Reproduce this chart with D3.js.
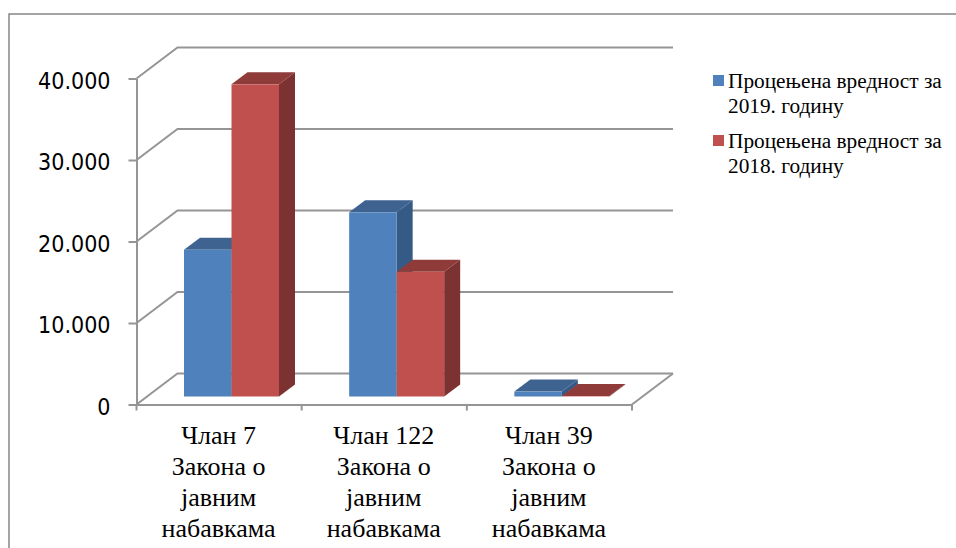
<!DOCTYPE html>
<html>
<head>
<meta charset="utf-8">
<script src="https://cdn.jsdelivr.net/npm/d3@7"></script>
<style>
  html, body { margin: 0; padding: 0; background: #fff; overflow: hidden; }
  svg { display: block; }
</style>
</head>
<body>
<svg width="956" height="548"></svg>
<script>
var categories = ["Члан 7", "Члан 122", "Члан 39"];
var categoryRest = ["Закона о", "јавним", "набавкама"];
var seriesNames = ["Процењена вредност за 2019. годину", "Процењена вредност за 2018. годину"];
var legendLines = [
  ["Процењена вредност за", "2019. годину"],
  ["Процењена вредност за", "2018. годину"]
];
var values2019 = [18000, 22600, 600];
var values2018 = [38300, 15300, 50];
var yTicks = [0, 10000, 20000, 30000, 40000];

var colors = ["#4f81bd", "#c0504d"];
var topColors = ["#3e6391", "#8e3b39"];
var sideColors = ["#355a85", "#7b3230"];
var gridColor = "#959595";
var serif = "'Liberation Serif', serif";

var svg = d3.select("svg");
var g = svg.append("g");

// chart frame, only left and top show up in the picture
g.append("path")
  .attr("d", "M9,548V14H956")
  .attr("fill", "none")
  .attr("stroke", "#868686")
  .attr("stroke-width", 1.5);

var xScale = d3.scaleBand().domain(categories).range([136.5, 632]);
var seriesScale = d3.scaleBand().domain([0, 1]).range([47.5, 142.5]);
var yScale = d3.scaleLinear().domain([0, 40000]).range([404.5, 78.5]);

// the 3d look: back wall offset and bar depth
var wallDx = 41, wallDy = -31;
var barDx = 16, barDy = -12, barLift = 8;

// walls and gridlines
g.selectAll(".grid")
  .data(yTicks)
  .enter()
  .append("polyline")
  .attr("class", "grid")
  .attr("fill", "none")
  .attr("stroke", gridColor)
  .attr("stroke-width", 2)
  .attr("points", function (d) {
    var y = yScale(d);
    return [[136.5, y], [136.5 + wallDx, y + wallDy], [632 + wallDx, y + wallDy]].join(" ");
  });

// floor front right corner
g.append("line")
  .attr("x1", 632).attr("y1", yScale(0))
  .attr("x2", 632 + wallDx).attr("y2", yScale(0) + wallDy)
  .attr("stroke", gridColor)
  .attr("stroke-width", 2);

var yAxis = g.append("g")
  .attr("transform", "translate(136.5,0)")
  .call(d3.axisLeft(yScale)
    .tickValues(yTicks)
    .tickSize(8)
    .tickPadding(18)
    .tickSizeOuter(0)
    .tickFormat(function (d) { return d3.format(",")(d).replace(/,/g, "."); }));
yAxis.selectAll("text")
  .attr("font-family", "'DejaVu Sans', sans-serif")
  .attr("font-stretch", "condensed")
  .attr("font-size", "23px")
  .attr("fill", "#000");
yAxis.selectAll(".tick line").attr("x2", -8);
yAxis.selectAll(".tick text").attr("x", -26).attr("y", 2.5);

var xAxis = g.append("g")
  .attr("transform", "translate(0," + yScale(0) + ")")
  .call(d3.axisBottom(xScale).tickValues([]).tickSize(0));

var xTickPos = categories.map(function (c) { return xScale(c); }).concat([632]);
xAxis.selectAll(".cat-tick")
  .data(xTickPos)
  .enter()
  .append("line")
  .attr("class", "cat-tick")
  .attr("x1", function (d) { return d; })
  .attr("x2", function (d) { return d; })
  .attr("y1", 0)
  .attr("y2", 6);

[yAxis, xAxis].forEach(function (a) {
  a.selectAll(".domain, line")
    .attr("stroke", gridColor)
    .attr("stroke-width", 2);
});

// category labels, 4 lines each
var labels = g.selectAll(".cat-label")
  .data(categories)
  .enter()
  .append("text")
  .attr("class", "cat-label")
  .attr("text-anchor", "middle")
  .attr("font-family", serif)
  .attr("font-size", "26px")
  .attr("fill", "#000");

labels.selectAll("tspan")
  .data(function (d) {
    return [d].concat(categoryRest).map(function (t) { return { cat: d, text: t }; });
  })
  .enter()
  .append("tspan")
  .attr("x", function (d) { return xScale(d.cat) + xScale.bandwidth() / 2 - 0.5; })
  .attr("y", function (d, i) { return 444 + i * 31; })
  .text(function (d) { return d.text; });

// bars, left to right so the red one sits over the blue side
[values2019, values2018].forEach(function (vals, s) {
  var bars = g.selectAll(".bar" + s)
    .data(vals)
    .enter()
    .append("g")
    .attr("class", "bar" + s)
    .attr("transform", function (d, i) {
      return "translate(" + (xScale(categories[i]) + seriesScale(s)) + "," + (yScale(d) - barLift) + ")";
    });
  var w = seriesScale.bandwidth();

  bars.append("path") // side
    .attr("fill", sideColors[s])
    .attr("d", function (d) {
      var h = yScale(0) - yScale(d);
      return "M" + w + ",0l" + barDx + "," + barDy + "v" + h + "l" + (-barDx) + "," + (-barDy) + "z";
    });
  bars.append("path") // top
    .attr("fill", topColors[s])
    .attr("d", "M0,0l" + barDx + "," + barDy + "h" + w + "l" + (-barDx) + "," + (-barDy) + "z");
  bars.append("rect") // front
    .attr("width", w)
    .attr("height", function (d) { return yScale(0) - yScale(d); })
    .attr("fill", colors[s]);
});

// legend
var legend = g.selectAll(".legend")
  .data(seriesNames)
  .enter()
  .append("g")
  .attr("class", "legend")
  .attr("transform", function (d, i) { return "translate(713," + (75 + i * 60) + ")"; });

legend.append("rect")
  .attr("width", 11)
  .attr("height", 11)
  .attr("fill", function (d, i) { return colors[i]; });

legend.each(function (d, i) {
  d3.select(this).selectAll("text")
    .data(legendLines[i])
    .enter()
    .append("text")
    .attr("x", 15)
    .attr("y", function (t, k) { return 13 + k * 24.5; })
    .attr("font-family", serif)
    .attr("font-size", "21.3px")
    .attr("fill", "#000")
    .text(function (t) { return t; });
});
</script>
</body>
</html>
